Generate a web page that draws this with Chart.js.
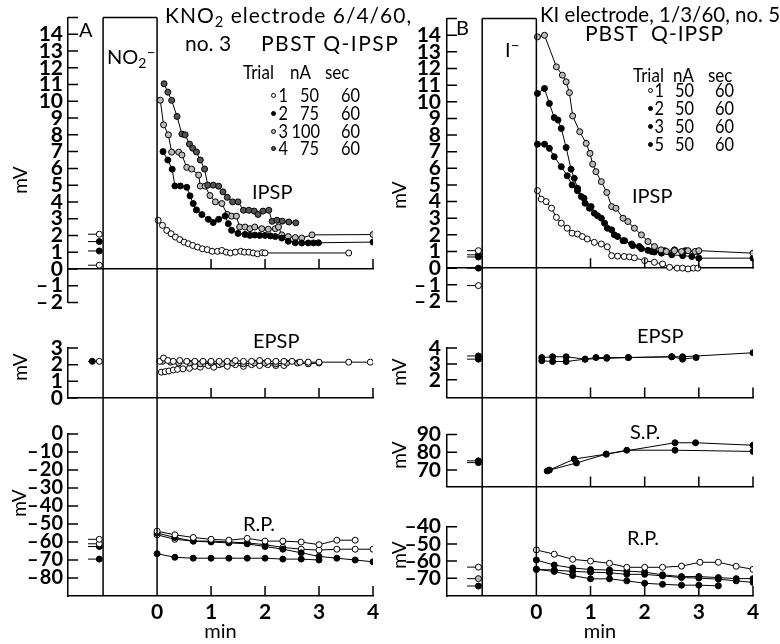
<!DOCTYPE html>
<html>
<head>
<meta charset="utf-8">
<script src="https://cdn.jsdelivr.net/npm/chart.js@4.4.1/dist/chart.umd.min.js"></script>
<style>
  body { margin: 0; background: #fff; width: 780px; height: 644px; position: relative; overflow: hidden; font-family: Lato, "DejaVu Sans", sans-serif; color: #000; }
  canvas { position: absolute; }
  .t { position: absolute; white-space: nowrap; line-height: 1; font-size: 20px; }
  .h { transform: scaleX(0.85); transform-origin: left center; }
  .n { text-align: right; width: 40px; transform: scaleX(0.82); transform-origin: right center; }
  .mv { position: absolute; white-space: nowrap; line-height: 1; font-size: 19px; transform: translate(-50%, -50%) rotate(-90deg); }
  .dot { position: absolute; width: 5px; height: 5px; border-radius: 50%; border: 1px solid #000; box-sizing: border-box; }
  sub { font-size: 70%; vertical-align: 0; position: relative; top: 4px; }
  sup { font-size: 80%; vertical-align: 0; position: relative; top: -7px; }
</style>
</head>
<body>
<canvas id="aIpsp" width="390" height="320" style="left:0;top:0"></canvas>
<canvas id="aEpsp" width="390" height="96" style="left:0;top:320px"></canvas>
<canvas id="aRp" width="390" height="228" style="left:0;top:416px"></canvas>
<canvas id="bIpsp" width="390" height="320" style="left:390px;top:0"></canvas>
<canvas id="bEpsp" width="390" height="96" style="left:390px;top:320px"></canvas>
<canvas id="bSp" width="390" height="89" style="left:390px;top:416px"></canvas>
<canvas id="bRp" width="390" height="139" style="left:390px;top:505px"></canvas>

<!-- panel A text -->
<div class="t" style="left:79px;top:19px">A</div>
<div class="t" style="left:107px;top:46px">NO<sub>2</sub><sup>–</sup></div>
<div class="t" style="left:165px;top:4px;font-size:21px;letter-spacing:1px">KNO<sub>2</sub> electrode 6/4/60,</div>
<div class="t" style="left:185px;top:32px;font-size:21px">no. 3</div>
<div class="t" style="left:261px;top:32px;font-size:21px;letter-spacing:1.5px">PBST Q-IPSP</div>
<div class="t h" style="left:243px;top:61px">Trial</div>
<div class="t h" style="left:290px;top:61px">nA</div>
<div class="t h" style="left:325px;top:61px">sec</div>
<div class="dot" style="left:271px;top:93px;background:#fff"></div>
<div class="dot" style="left:271px;top:111px;background:#000"></div>
<div class="dot" style="left:271px;top:129px;background:#bbb"></div>
<div class="dot" style="left:271px;top:146px;background:#555"></div>
<div class="t n" style="left:248px;top:84px">1</div>
<div class="t n" style="left:248px;top:102px">2</div>
<div class="t n" style="left:248px;top:120px">3</div>
<div class="t n" style="left:248px;top:137px">4</div>
<div class="t n" style="left:279px;top:84px">50</div>
<div class="t n" style="left:279px;top:102px">75</div>
<div class="t n" style="left:280px;top:120px">100</div>
<div class="t n" style="left:279px;top:137px">75</div>
<div class="t n" style="left:320px;top:84px">60</div>
<div class="t n" style="left:320px;top:102px">60</div>
<div class="t n" style="left:320px;top:120px">60</div>
<div class="t n" style="left:320px;top:137px">60</div>
<div class="t" style="left:252px;top:181px">IPSP</div>
<div class="t" style="left:253px;top:330px">EPSP</div>
<div class="t" style="left:243px;top:513px">R.P.</div>
<div class="mv" style="left:19px;top:180px">mV</div>
<div class="mv" style="left:19px;top:367px">mV</div>
<div class="mv" style="left:18px;top:503px">mV</div>

<!-- panel B text -->
<div class="t" style="left:456px;top:17px">B</div>
<div class="t" style="left:505px;top:39px">I<sup>–</sup></div>
<div class="t" style="left:540px;top:4px;font-size:20.5px">KI electrode, 1/3/60, no. 5</div>
<div class="t" style="left:585px;top:22px;font-size:21px;letter-spacing:1px">PBST&nbsp;&nbsp;Q-IPSP</div>
<div class="t h" style="left:633px;top:64px">Trial</div>
<div class="t h" style="left:673px;top:64px">nA</div>
<div class="t h" style="left:708px;top:64px">sec</div>
<div class="dot" style="left:648px;top:88px;background:#fff"></div>
<div class="dot" style="left:648px;top:106px;background:#000"></div>
<div class="dot" style="left:648px;top:124px;background:#000"></div>
<div class="dot" style="left:648px;top:142px;background:#000"></div>
<div class="t n" style="left:624px;top:79px">1</div>
<div class="t n" style="left:624px;top:97px">2</div>
<div class="t n" style="left:624px;top:115px">3</div>
<div class="t n" style="left:624px;top:133px">5</div>
<div class="t n" style="left:654px;top:79px">50</div>
<div class="t n" style="left:654px;top:97px">50</div>
<div class="t n" style="left:654px;top:115px">50</div>
<div class="t n" style="left:654px;top:133px">50</div>
<div class="t n" style="left:694px;top:79px">60</div>
<div class="t n" style="left:694px;top:97px">60</div>
<div class="t n" style="left:694px;top:115px">60</div>
<div class="t n" style="left:694px;top:133px">60</div>
<div class="t" style="left:632px;top:185px">IPSP</div>
<div class="t" style="left:637px;top:325px">EPSP</div>
<div class="t" style="left:630px;top:421px">S.P.</div>
<div class="t" style="left:627px;top:527px">R.P.</div>
<div class="mv" style="left:398px;top:195px">mV</div>
<div class="mv" style="left:398px;top:372px">mV</div>
<div class="mv" style="left:398px;top:455px">mV</div>
<div class="mv" style="left:398px;top:555px">mV</div>

<script>
// ---- data: [min, mV] pairs ----
const aIpsp1 = [[0.02,2.9],[0.1,2.6],[0.18,2.3],[0.26,2.1],[0.34,1.9],[0.42,1.75],[0.5,1.6],[0.58,1.5],[0.66,1.4],[0.75,1.3],[0.84,1.2],[0.93,1.15],[1.02,1.05],[1.12,1.05],[1.2,1.1],[1.28,1.0],[1.36,0.95],[1.45,1.0],[1.55,1.05],[1.62,1.0],[1.7,1.0],[1.78,0.95],[1.86,0.9],[1.95,0.97],[2.0,0.95],[3.55,0.95]];
const aIpsp2 = [[0.11,7.0],[0.2,6.5],[0.28,5.95],[0.33,4.95],[0.43,4.95],[0.55,4.87],[0.61,4.36],[0.67,3.9],[0.73,3.52],[0.83,3.24],[0.95,2.96],[1.04,2.77],[1.14,2.96],[1.26,3.15],[1.32,2.7],[1.38,2.3],[1.5,2.12],[1.63,2.06],[1.72,2.0],[1.81,2.02],[1.9,2.0],[2.0,2.0],[2.1,1.97],[2.19,1.93],[2.31,1.84],[2.43,1.65],[2.56,1.56],[2.68,1.55],[2.8,1.55],[2.9,1.55],[2.99,1.56],[4.0,1.6]];
const aIpsp3 = [[0.13,11.05],[0.2,10.55],[0.27,10.06],[0.37,9.1],[0.46,8.05],[0.52,8.0],[0.6,7.45],[0.66,7.2],[0.73,6.98],[0.8,6.5],[0.88,5.96],[0.94,5.0],[1.04,5.0],[1.14,4.94],[1.22,4.6],[1.3,4.27],[1.4,4.0],[1.5,4.0],[1.6,3.5],[1.7,3.5],[1.8,3.45],[1.87,3.25],[1.96,3.45],[2.07,3.5],[2.13,2.84],[2.22,2.9],[2.32,2.85],[2.44,2.8],[2.57,2.75]];
const aIpsp4 = [[0.06,10.07],[0.12,8.6],[0.21,8.0],[0.27,6.97],[0.4,6.97],[0.46,6.8],[0.55,6.06],[0.64,5.96],[0.77,5.6],[0.8,4.94],[0.89,4.94],[0.98,4.38],[1.08,4.0],[1.2,3.9],[1.3,3.25],[1.38,3.15],[1.47,3.15],[1.53,2.5],[1.63,2.5],[1.72,2.4],[1.81,2.5],[1.94,2.4],[2.06,2.37],[2.19,2.4],[2.25,2.5],[2.31,2.03],[2.43,1.93],[2.56,1.87],[2.68,1.84],[2.87,2.03],[4.0,2.05]];
const aIpspPre = [2.07, 1.63, 1.07, 0.22];

const aEpsp1 = [[0.05,2.2],[0.12,2.4],[0.2,2.25],[0.3,2.2],[0.42,2.25],[0.55,2.2],[0.7,2.2],[0.85,2.2],[1.0,2.2],[1.15,2.2],[1.3,2.2],[1.45,2.25],[1.6,2.2],[1.75,2.2],[1.9,2.25],[2.05,2.2],[2.2,2.2],[2.35,2.2],[2.5,2.2],[2.65,2.15],[2.8,2.15],[3.0,2.15],[3.55,2.15],[3.95,2.15]];
const aEpsp2 = [[0.1,2.2],[0.25,2.15],[0.4,2.1],[0.6,2.1],[0.8,2.05],[1.0,2.1],[1.2,2.05],[1.4,2.1],[1.6,2.05],[1.8,2.1],[2.0,2.1],[2.2,2.05],[2.4,2.1],[2.6,2.1],[2.8,2.05],[3.0,2.1]];
const aEpsp3 = [[0.08,1.55],[0.15,1.58],[0.22,1.62],[0.3,1.68],[0.38,1.72],[0.48,1.75],[0.6,1.78],[0.7,1.9],[0.8,1.85],[0.95,1.95],[1.05,1.85],[1.15,2.0],[1.3,1.9],[1.45,2.0],[1.6,1.9],[1.75,2.0],[1.9,1.95],[2.05,2.0],[2.2,1.95],[2.35,1.95]];
const aEpspPre = [2.2, 2.2];

const aRp1 = [[0,-54],[0.33,-56],[0.67,-57.5],[1.0,-58.5],[1.33,-59],[1.67,-58],[2.0,-59.5],[2.33,-59.5],[2.67,-60],[3.0,-61.5],[3.33,-59],[3.67,-59]];
const aRp2 = [[0,-55],[0.33,-57.5],[0.67,-59.5],[1.0,-60],[1.33,-60.5],[1.67,-61],[2.0,-62.5],[2.33,-64],[2.67,-66],[3.0,-68],[3.33,-69],[3.67,-70],[4.0,-71]];
const aRp3 = [[0,-56],[0.33,-58.5],[0.67,-59.5],[1.0,-59.5],[1.33,-60],[1.67,-60.5],[2.0,-61.5],[2.33,-63],[2.67,-64],[3.0,-64.5],[3.33,-64],[3.67,-64],[4.0,-64]];
const aRp4 = [[0,-66.5],[0.33,-68.5],[0.67,-69],[1.0,-69],[1.33,-69],[1.67,-69],[2.0,-69],[2.33,-69.5],[2.67,-69.5],[3.0,-70]];
const aRpPre = [-58.5, -61, -62.5, -69.5];

const bIpsp1 = [[0.02,4.66],[0.09,4.15],[0.18,4.0],[0.28,3.6],[0.37,3.05],[0.46,2.7],[0.57,2.4],[0.66,2.1],[0.76,2.05],[0.85,1.9],[0.94,1.75],[1.07,1.55],[1.2,1.45],[1.31,1.28],[1.39,0.75],[1.5,0.72],[1.62,0.7],[1.72,0.68],[1.81,0.62],[2.0,0.45],[2.18,0.35],[2.33,0.25],[2.46,0.05],[2.6,0.0],[2.7,0.0],[2.8,-0.05],[2.9,0.0],[2.98,0.0]];
const bIpsp2 = [[0.02,13.9],[0.15,14.0],[0.37,12.1],[0.48,11.6],[0.55,11.2],[0.61,10.55],[0.67,9.15],[0.8,8.2],[0.92,7.5],[0.99,6.9],[1.04,6.25],[1.1,5.8],[1.2,5.2],[1.3,4.55],[1.39,3.7],[1.47,3.6],[1.6,3.0],[1.69,2.8],[1.81,2.4],[1.94,2.0],[2.06,1.6],[2.18,1.3],[2.3,1.1],[2.4,1.0],[2.55,1.05],[2.68,1.0],[2.8,1.05],[2.93,1.0],[3.0,1.05],[4.0,0.9]];
const bIpsp3 = [[0.02,10.5],[0.15,10.8],[0.24,9.9],[0.33,9.05],[0.4,8.9],[0.46,8.4],[0.55,7.25],[0.64,5.95],[0.7,5.4],[0.76,4.8],[0.83,4.3],[0.9,3.9],[0.98,3.6],[1.07,3.3],[1.2,3.0],[1.31,2.4],[1.44,2.0],[1.6,1.65],[1.76,1.45],[1.9,1.3],[2.06,1.07],[2.18,0.97],[2.37,1.05],[2.55,1.1],[2.75,1.05],[2.98,1.0]];
const bIpsp5 = [[0.02,7.45],[0.15,7.45],[0.24,7.2],[0.33,6.7],[0.46,6.1],[0.57,5.55],[0.66,5.0],[0.76,4.65],[0.88,4.2],[1.01,3.7],[1.13,3.15],[1.26,2.7],[1.39,2.3],[1.5,1.9],[1.63,1.65],[1.78,1.35],[1.94,1.17],[2.13,1.0],[2.31,0.9],[2.5,0.8],[2.7,0.75],[2.87,0.7],[3.0,0.6],[4.0,0.6]];
const bIpspPre = [1.05, 0.8, 0.67, 0.0, -1.05];

const bEpsp1 = [[0.1,3.4],[0.3,3.45],[0.55,3.45],[0.9,3.3],[1.1,3.4],[1.3,3.4],[1.7,3.4],[2.5,3.45],[2.7,3.45],[4.0,3.7]];
const bEpsp2 = [[0.1,3.2],[0.3,3.15],[0.55,3.15],[0.9,3.3],[1.3,3.35],[1.7,3.4],[2.5,3.45],[2.7,3.3],[2.95,3.4]];
const bEpspPre = [3.5, 3.3];

const bSp1 = [[0.2,69.5],[0.7,76.2],[1.29,79],[1.67,81.2],[2.56,81.2],[4.0,80.5]];
const bSp2 = [[0.24,70],[0.74,74],[1.29,79],[2.56,85.4],[2.94,85.4],[4.0,84]];
const bSpPre = [75.2, 74.2];

const bRp1 = [[0,-53.5],[0.33,-56],[0.67,-59],[1.0,-60],[1.35,-61.3],[1.67,-63.6],[2.0,-63.6],[2.33,-63.6],[2.68,-62.9],[3.02,-60.7],[3.36,-60.7],[3.69,-63],[4.0,-64.8]];
const bRp2 = [[0,-59.4],[0.33,-62.3],[0.67,-64],[1.0,-64.9],[1.35,-65.2],[1.67,-65.8],[2.0,-66.4],[2.33,-68],[2.68,-69],[3.0,-69],[3.36,-69.6],[3.69,-70.2],[4.0,-70.2]];
const bRp3 = [[0,-64.8],[0.33,-65.2],[0.67,-66],[1.0,-66.4],[1.35,-66.8],[1.67,-67.7],[2.0,-67.7],[2.33,-68.6],[2.68,-69.6],[3.0,-69.9],[3.36,-70.5],[3.69,-71.5],[4.0,-72.4]];
const bRp5 = [[0,-64.8],[0.33,-66],[0.67,-68.4],[1.0,-70.3],[1.35,-70.3],[1.67,-71.5],[2.0,-72.9],[2.33,-73.5],[2.68,-74],[3.0,-74],[3.36,-74.4]];
const bRpPre = [-63.5, -70.2, -74.5];

// ---- ticks ----
const xTicks = [0, 1, 2, 3, 4];
const ipspTicks = [-2, -1, 0, 1, 2, 3, 4, 5, 6, 7, 8, 9, 10, 11, 12, 13, 14, 15];
const aEpspTicks = [0, 1, 2, 3];
const aRpTicks = [0, -10, -20, -30, -40, -50, -60, -70, -80];
const bEpspTicks = [2, 3, 4];
const bSpTicks = [70, 80, 90];
const bRpTicks = [-40, -50, -60, -70];

const X_MIN = -1.65, X_MAX = 4;
const PRE_X0 = -1.28, PRE_X1 = -1.07;   // short control-value stubs left of the drug period
const RECT = [-1, 0];                    // iontophoresis period box
const FONT = 'Lato, "DejaVu Sans", sans-serif';
const WHITE = '#fff', BLACK = '#000', LIGHT = '#bbb', DARK = '#555';

const pts = a => a.map(([x, y]) => ({ x, y }));

function trace(data, fill) {
    return {
        data: pts(data),
        borderColor: '#000', borderWidth: 1,
        pointRadius: 3, pointBorderWidth: 1,
        pointBorderColor: '#000', pointBackgroundColor: fill,
    };
}
function preStub(y, fill) {
    return {
        data: [{ x: PRE_X0, y }, { x: PRE_X1, y }],
        borderColor: '#000', borderWidth: 1,
        pointRadius: [0, 3], pointBorderWidth: 1,
        pointBorderColor: '#000', pointBackgroundColor: fill,
    };
}

const dash = (v, gap) => v < 0 ? '\u2013' + gap + Math.abs(v) : String(v);

// inward tick marks + the drug-period box, drawn with the chart's own scales
const framePlugin = {
    id: 'frame',
    afterDraw(chart, args, opts) {
        const { ctx, scales: { x, y } } = chart;
        const base = y.getPixelForValue(opts.base);
        ctx.save();
        ctx.strokeStyle = '#000';
        ctx.lineWidth = 1.5;
        ctx.beginPath();
        opts.marks.forEach(v => {
            const py = y.getPixelForValue(v);
            ctx.moveTo(x.left, py);
            ctx.lineTo(x.left + 10, py);
        });
        xTicks.slice(1).forEach(v => {
            const px = x.getPixelForValue(v);
            ctx.moveTo(px, base);
            ctx.lineTo(px, base - 10);
        });
        const top = opts.first ? y.top : 0;
        const bottom = opts.last ? base : chart.height;
        RECT.forEach(v => {
            const px = x.getPixelForValue(v);
            ctx.moveTo(px, top);
            ctx.lineTo(px, bottom);
        });
        if (opts.first) {
            ctx.moveTo(x.getPixelForValue(RECT[0]), top);
            ctx.lineTo(x.getPixelForValue(RECT[1]), top);
        }
        ctx.stroke();
        ctx.restore();
    }
};

function subChart(id, o) {
    const ctx = document.getElementById(id).getContext('2d');
    return new Chart(ctx, {
        type: 'line',
        data: { datasets: o.datasets },
        options: {
            responsive: false,
            animation: false,
            layout: { autoPadding: false, padding: { top: o.padTop, bottom: o.padBottom, left: 0, right: o.padRight } },
            plugins: {
                legend: { display: false },
                tooltip: { enabled: false },
                frame: { marks: o.yTicks, base: o.base, first: !!o.first, last: !!o.last },
            },
            scales: {
                x: {
                    type: 'linear', min: X_MIN, max: X_MAX,
                    position: o.xAtZero ? { y: 0 } : 'bottom',
                    grid: { display: false, drawTicks: false },
                    border: { display: true, color: '#000', width: 1.5 },
                    ticks: { display: !!o.last, autoSkip: false, maxRotation: 0, padding: 4, color: '#000', font: { family: FONT, size: 21, weight: 'bold' } },
                    title: { display: !!o.last, text: 'min', color: '#000', padding: 0, font: { family: FONT, size: 20 } },
                    afterBuildTicks: s => { s.ticks = xTicks.map(v => ({ value: v })); },
                    afterFit: s => { s.height = o.last ? 48 : 0; },
                },
                y: {
                    type: 'linear', min: o.yMin, max: o.yMax,
                    grid: { display: false, drawTicks: false },
                    border: { display: true, color: '#000', width: 1.5 },
                    ticks: { autoSkip: false, padding: o.labelPad, color: '#000', font: { family: FONT, size: o.tickSize || 21, weight: 'bold' }, callback: o.fmt },
                    afterBuildTicks: s => { s.ticks = o.yTicks.map(v => ({ value: v })); },
                    afterFit: s => { s.width = o.axisWidth; },
                },
            },
        },
        plugins: [framePlugin],
    });
}

const A = { axisWidth: 68, padRight: 17, labelPad: 5 };
const B = { axisWidth: 57, padRight: 27, labelPad: 6 };

// Panel A
subChart('aIpsp', Object.assign({}, A, {
    yMin: -2, yMax: 15, yTicks: ipspTicks, padTop: 9, padBottom: 8.4, base: 0, xAtZero: true, first: true,
    fmt: v => v === 15 ? '' : dash(v, '\u2009'),
    datasets: [
        trace(aIpsp1, WHITE), trace(aIpsp2, BLACK), trace(aIpsp3, DARK), trace(aIpsp4, LIGHT),
        preStub(aIpspPre[0], WHITE), preStub(aIpspPre[1], BLACK), preStub(aIpspPre[2], BLACK), preStub(aIpspPre[3], WHITE),
    ],
}));
subChart('aEpsp', Object.assign({}, A, {
    yMin: 0, yMax: 3, yTicks: aEpspTicks, padTop: 28, padBottom: 18, base: 0,
    fmt: v => String(v),
    datasets: [
        trace(aEpsp1, WHITE), trace(aEpsp2, LIGHT), trace(aEpsp3, WHITE),
        preStub(aEpspPre[0], WHITE),
        { data: [{ x: -1.2, y: aEpspPre[1] }], showLine: false, pointRadius: 3, pointBorderWidth: 1, pointBorderColor: '#000', pointBackgroundColor: BLACK },
    ],
}));
subChart('aRp', Object.assign({}, A, {
    yMin: -90, yMax: 0, yTicks: aRpTicks, padTop: 18, padBottom: 0, base: -90, last: true, tickSize: 20,
    fmt: v => dash(v, '\u200A'),
    datasets: [
        trace(aRp1, WHITE), trace(aRp2, BLACK), trace(aRp3, WHITE), trace(aRp4, BLACK),
        preStub(aRpPre[0], WHITE), preStub(aRpPre[1], WHITE), preStub(aRpPre[2], BLACK), preStub(aRpPre[3], BLACK),
    ],
}));

// Panel B
subChart('bIpsp', Object.assign({}, B, {
    yMin: -2, yMax: 15, yTicks: ipspTicks, padTop: 9, padBottom: 8.4, base: 0, xAtZero: true, first: true,
    fmt: v => v === 15 ? '' : dash(v, '\u2009'),
    datasets: [
        trace(bIpsp1, WHITE), trace(bIpsp2, LIGHT), trace(bIpsp3, BLACK), trace(bIpsp5, BLACK),
        preStub(bIpspPre[0], WHITE), preStub(bIpspPre[1], BLACK), preStub(bIpspPre[2], BLACK), preStub(bIpspPre[3], BLACK), preStub(bIpspPre[4], WHITE),
    ],
}));
subChart('bEpsp', Object.assign({}, B, {
    yMin: 0.9, yMax: 4, yTicks: bEpspTicks, padTop: 28, padBottom: 18, base: 0.9,
    fmt: v => String(v),
    datasets: [
        trace(bEpsp1, BLACK), trace(bEpsp2, BLACK),
        preStub(bEpspPre[0], BLACK), preStub(bEpspPre[1], BLACK),
    ],
}));
subChart('bSp', Object.assign({}, B, {
    yMin: 60.8, yMax: 90, yTicks: bSpTicks, padTop: 18, padBottom: 16, base: 60.8,
    fmt: v => String(v),
    datasets: [
        trace(bSp1, BLACK), trace(bSp2, BLACK),
        preStub(bSpPre[0], BLACK), preStub(bSpPre[1], BLACK),
    ],
}));
subChart('bRp', Object.assign({}, B, {
    yMin: -80.3, yMax: -40, yTicks: bRpTicks, padTop: 21.7, padBottom: 0, base: -80.3, last: true,
    fmt: v => dash(v, ''),
    datasets: [
        trace(bRp1, WHITE), trace(bRp2, BLACK), trace(bRp3, BLACK), trace(bRp5, BLACK),
        preStub(bRpPre[0], WHITE), preStub(bRpPre[1], LIGHT), preStub(bRpPre[2], BLACK),
    ],
}));
</script>
</body>
</html>
